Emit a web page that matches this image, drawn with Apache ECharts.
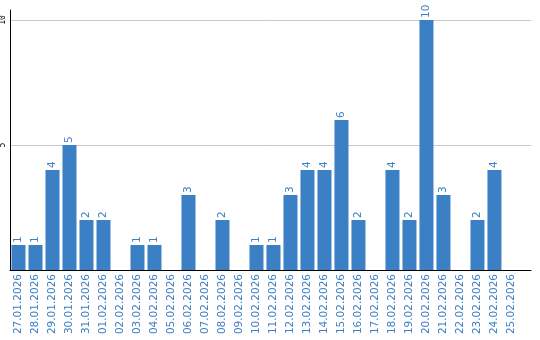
<!DOCTYPE html>
<html><head><meta charset="utf-8">
<script src="https://cdn.jsdelivr.net/npm/echarts@6/dist/echarts.min.js"></script>
<style>html,body{margin:0;padding:0;background:#fff}#c{width:540px;height:340px}</style>
</head><body><div id="c"></div>
<script>
var categories = ['27.01.2026','28.01.2026','29.01.2026','30.01.2026','31.01.2026','01.02.2026','02.02.2026','03.02.2026','04.02.2026','05.02.2026','06.02.2026','07.02.2026','08.02.2026','09.02.2026','10.02.2026','11.02.2026','12.02.2026','13.02.2026','14.02.2026','15.02.2026','16.02.2026','17.02.2026','18.02.2026','19.02.2026','20.02.2026','21.02.2026','22.02.2026','23.02.2026','24.02.2026','25.02.2026'];
var values = [1,1,4,5,2,2,0,1,1,0,3,0,2,0,1,1,3,4,4,6,2,0,4,2,10,3,0,2,4,0];
var yTicks = [5,10];
var blue = '#3b7fc4';
var chart = echarts.init(document.getElementById('c'), null, {renderer:'canvas'});
var idx = categories.map(function(_, i){ return i; });
chart.setOption({
  animation:false,
  grid:{left:10, right:9, top:10, bottom:70, containLabel:false, outerBoundsMode:'none'},
  xAxis:{type:'value', min:-0.5, max:30.15,
    axisLine:{show:true, onZero:false, lineStyle:{color:'#000', width:1}},
    axisTick:{show:false},
    splitLine:{show:false},
    axisLabel:{customValues:idx, rotate:90, color:blue, fontFamily:'DejaVu Sans', fontSize:10.5, margin:4,
      formatter:function(v){ return categories[Math.round(v)] || ''; }}
  },
  yAxis:{type:'value', min:0, max:10.4, interval:5,
    axisLine:{show:true, onZero:false, lineStyle:{color:'#000', width:1}},
    axisTick:{show:false},
    splitLine:{show:true, showMaxLine:false, showMinLine:false, lineStyle:{color:'#c8c8c8', width:1}},
    axisLabel:{rotate:90, color:'#000', fontFamily:'DejaVu Sans Mono', fontSize:8, margin:3,
      formatter:function(v){ return yTicks.indexOf(v) >= 0 ? String(v) : ''; }}
  },
  series:[{type:'bar', barWidth:14,
    data: values.map(function(v,i){ return [i, v]; }),
    itemStyle:{color:blue},
    label:{show:true, position:'top', rotate:90, align:'left', verticalAlign:'middle', distance:2,
      color:blue, fontFamily:'DejaVu Sans', fontSize:10.5,
      formatter:function(p){ return p.value[1] ? String(p.value[1]) : ''; }}
  }]
});
</script></body></html>
